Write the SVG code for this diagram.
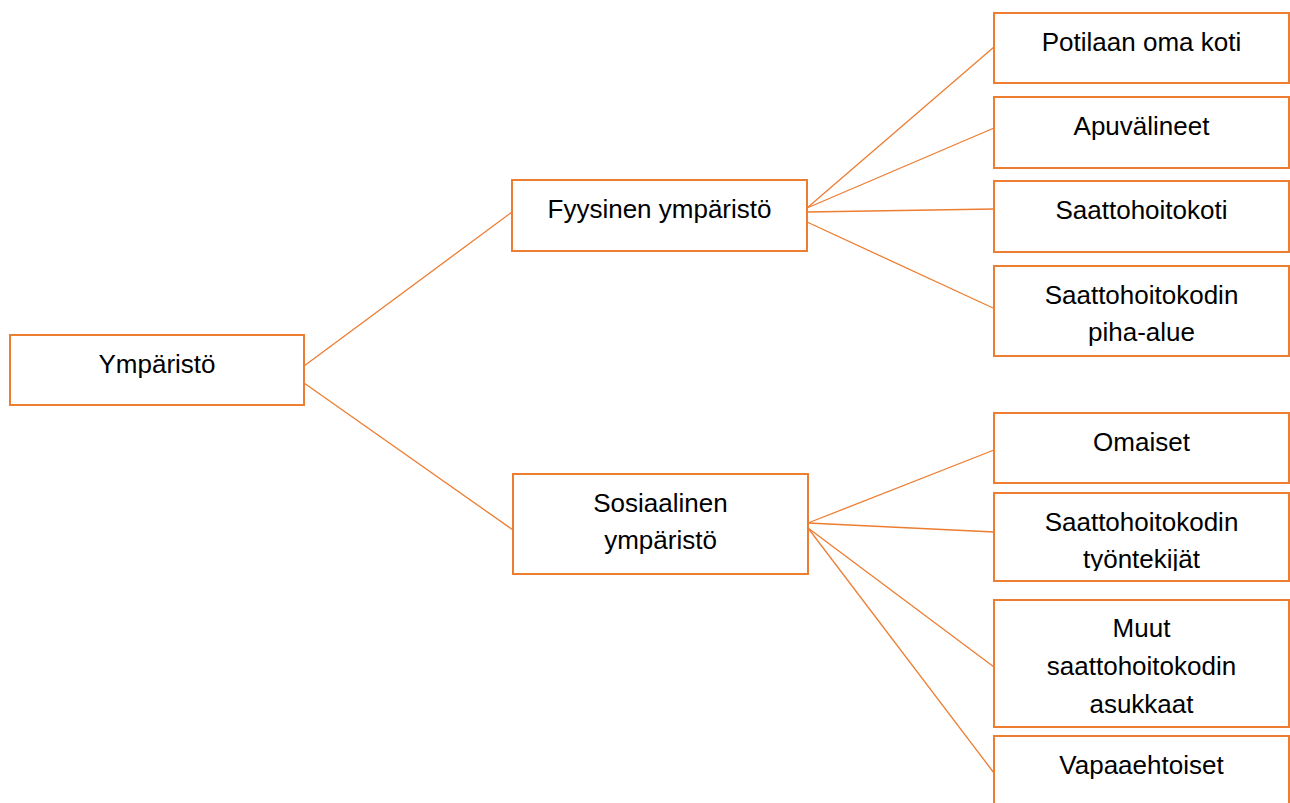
<svg xmlns="http://www.w3.org/2000/svg" width="1290" height="803" viewBox="0 0 1290 803">
<style>
.box{fill:#fff;stroke:#ED7D31;stroke-width:2}
.t{font-family:"Liberation Sans",Arial,sans-serif;font-size:26px;fill:#000;text-anchor:middle}
.c{stroke:#ED7D31;stroke-width:1.3;fill:none}
</style>
<defs>
<clipPath id="clipTy"><rect x="994" y="493" width="295" height="78"/></clipPath>
</defs>
<rect width="1290" height="803" fill="#fff"/>
<g id="connectors">
<line class="c" x1="304" y1="366" x2="512" y2="212"/>
<line class="c" x1="304" y1="383" x2="513" y2="530"/>
<line class="c" x1="807" y1="208" x2="994" y2="47"/>
<line class="c" x1="807" y1="208" x2="994" y2="128"/>
<line class="c" x1="807" y1="212" x2="994" y2="209"/>
<line class="c" x1="807" y1="222" x2="993" y2="308"/>
<line class="c" x1="808" y1="523" x2="994" y2="450"/>
<line class="c" x1="808" y1="523" x2="994" y2="532"/>
<line class="c" x1="808" y1="528" x2="994" y2="667"/>
<line class="c" x1="808" y1="528" x2="994" y2="773"/>
</g>
<g id="root">
<rect class="box" x="10" y="335" width="294" height="70"/>
<text class="t" x="157" y="373">Ympäristö</text>
</g>
<g id="fyysinen">
<rect class="box" x="512" y="180" width="295" height="71"/>
<text class="t" x="659.5" y="218">Fyysinen ympäristö</text>
</g>
<g id="sosiaalinen">
<rect class="box" x="513" y="474" width="295" height="100"/>
<text class="t" x="660.5" y="512">Sosiaalinen</text>
<text class="t" x="660.5" y="549">ympäristö</text>
</g>
<g id="potilaan">
<rect class="box" x="994" y="13" width="295" height="70"/>
<text class="t" x="1141.5" y="51">Potilaan oma koti</text>
</g>
<g id="apuvalineet">
<rect class="box" x="994" y="97" width="295" height="71"/>
<text class="t" x="1141.5" y="135">Apuvälineet</text>
</g>
<g id="saattohoitokoti">
<rect class="box" x="994" y="181" width="295" height="71"/>
<text class="t" x="1141.5" y="219">Saattohoitokoti</text>
</g>
<g id="piha">
<rect class="box" x="994" y="266" width="295" height="90"/>
<text class="t" x="1141.5" y="304">Saattohoitokodin</text>
<text class="t" x="1141.5" y="341">piha-alue</text>
</g>
<g id="omaiset">
<rect class="box" x="994" y="413" width="295" height="70"/>
<text class="t" x="1141.5" y="451">Omaiset</text>
</g>
<g id="tyontekijat">
<rect class="box" x="994" y="493" width="295" height="88"/>
<g clip-path="url(#clipTy)">
<text class="t" x="1141.5" y="531">Saattohoitokodin</text>
<text class="t" x="1141.5" y="568">työntekijät</text>
</g>
</g>
<g id="muut">
<rect class="box" x="994" y="600" width="295" height="127"/>
<text class="t" x="1141.5" y="637">Muut</text>
<text class="t" x="1141.5" y="675">saattohoitokodin</text>
<text class="t" x="1141.5" y="713">asukkaat</text>
</g>
<g id="vapaaehtoiset">
<rect class="box" x="994" y="736" width="295" height="80"/>
<text class="t" x="1141.5" y="774">Vapaaehtoiset</text>
</g>
</svg>
